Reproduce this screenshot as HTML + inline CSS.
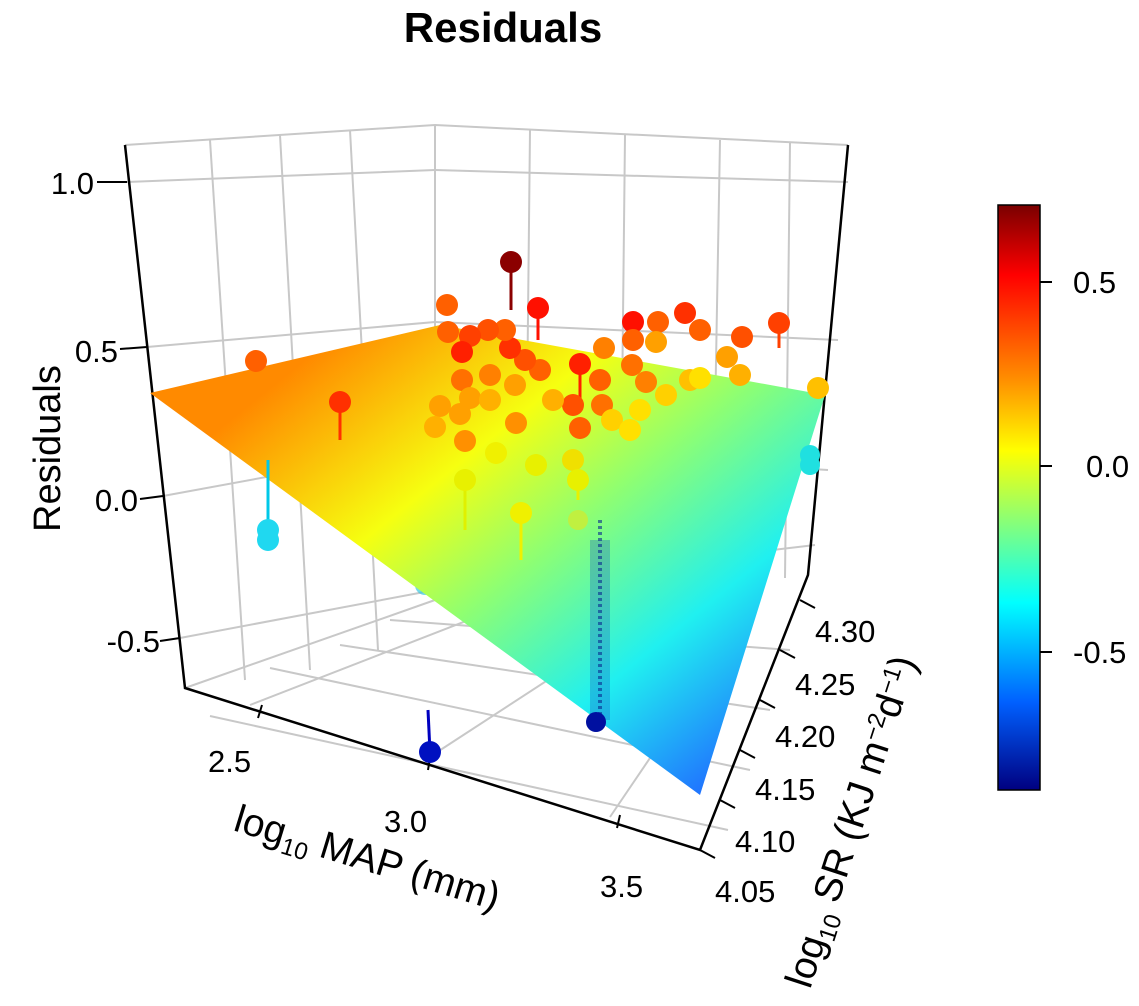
<!DOCTYPE html>
<html><head><meta charset="utf-8"><style>
body{margin:0;background:#fff}
svg text{font-family:"Liberation Sans",Arial,sans-serif}
</style></head><body>
<svg width="1139" height="1001" viewBox="0 0 1139 1001" xmlns="http://www.w3.org/2000/svg">
<defs>
<linearGradient id="pl" gradientUnits="userSpaceOnUse" x1="330" y1="340" x2="700" y2="800">
<stop offset="0" stop-color="#ff8a00"/>
<stop offset="0.3" stop-color="#f6ff10"/>
<stop offset="0.5" stop-color="#90ff70"/>
<stop offset="0.75" stop-color="#20f0f0"/>
<stop offset="1" stop-color="#2070ff"/>
</linearGradient>
<linearGradient id="cb" x1="0" y1="0" x2="0" y2="1">
<stop offset="0" stop-color="#7a0000"/>
<stop offset="0.12" stop-color="#ff0000"/>
<stop offset="0.3" stop-color="#ff9000"/>
<stop offset="0.42" stop-color="#ffff00"/>
<stop offset="0.55" stop-color="#80ff80"/>
<stop offset="0.68" stop-color="#00ffff"/>
<stop offset="0.85" stop-color="#0060ff"/>
<stop offset="1" stop-color="#000080"/>
</linearGradient>
</defs>
<text x="503" y="42" font-size="42" font-weight="bold" text-anchor="middle">Residuals</text>
<g stroke="#c8c8c8" stroke-width="2" fill="none">
<path d="M127,182 L435,170 M147,347 L435,322 M163,496 L435,446 M180,638 L435,590"/>
<path d="M210,140 L245,680 M280,135 L310,670 M350,130 L378,650"/>
<path d="M435,125 L435,600"/>
<path d="M435,170 L848,182 M435,322 L838,340 M435,446 L828,470 M435,590 L815,545"/>
<path d="M530,130 L525,595 M625,135 L620,590 M720,140 L712,585 M790,143 L785,578"/>
<path d="M250,705 L520,600 M425,760 L640,620 M610,817 L730,640 M185,688 L435,600"/>
<path d="M210,716 L728,830 M270,668 L750,770 M340,645 L770,710 M390,620 L790,650"/>
<path d="M125,145 L435,125 L848,145"/>
</g>
<g stroke="#000" stroke-width="2.5" fill="none">
<path d="M125,145 L185,688 L700,850 L808,575 L848,145"/>
</g>
<g stroke="#000" stroke-width="2">
<path d="M97,182 L127,182 M120,349 L147,347 M140,499 L163,496 M160,641 L180,638"/>
<path d="M258,718 L262,705 M428,770 L430,758 M617,828 L620,815"/>
<path d="M700,850 L715,858 M720,800 L735,808 M740,750 L755,758 M760,700 L775,708 M780,650 L795,658 M800,600 L815,608"/>
</g>
<g font-size="31" fill="#000">
<text x="94" y="194" text-anchor="end">1.0</text>
<text x="118" y="362" text-anchor="end">0.5</text>
<text x="138" y="511" text-anchor="end">0.0</text>
<text x="160" y="652" text-anchor="end">-0.5</text>
<text x="208" y="772">2.5</text>
<text x="384" y="832">3.0</text>
<text x="600" y="897">3.5</text>
<text x="715" y="902">4.05</text>
<text x="735" y="852">4.10</text>
<text x="755" y="800">4.15</text>
<text x="775" y="747">4.20</text>
<text x="795" y="695">4.25</text>
<text x="815" y="642">4.30</text>
</g>
<text transform="translate(60,532) rotate(-90)" font-size="38">Residuals</text>
<text transform="translate(232,830) rotate(17)" font-size="39">log<tspan font-size="24" dy="8">10</tspan><tspan dy="-8"> MAP (mm)</tspan></text>
<text transform="translate(810,990) rotate(-72)" font-size="39">log<tspan font-size="24" dy="8">10</tspan><tspan dy="-8"> SR (KJ m</tspan><tspan font-size="24" dy="-12">−2</tspan><tspan dy="12">d</tspan><tspan font-size="24" dy="-12">−1</tspan><tspan dy="12">)</tspan></text>
<g fill="#3ac8e0" opacity="0.7">
<circle cx="425" cy="585" r="10"/><circle cx="468" cy="605" r="10"/><circle cx="575" cy="590" r="11"/><circle cx="600" cy="640" r="11"/><circle cx="645" cy="630" r="10"/><circle cx="648" cy="570" r="9"/>
</g>
<polygon points="150,393 440,325 825,395 700,795" fill="url(#pl)"/>
<rect x="590" y="540" width="20" height="180" fill="#1a50c0" opacity="0.3"/>
<line x1="600" y1="520" x2="600" y2="720" stroke="#0a2a90" stroke-width="4" stroke-dasharray="3,3" opacity="0.6"/>
<g stroke-width="3">
<line x1="511" y1="262" x2="511" y2="310" stroke="#8b0000"/>
<line x1="340" y1="402" x2="340" y2="440" stroke="#ff3000"/>
<line x1="268" y1="460" x2="268" y2="520" stroke="#00c8e8"/>
<line x1="430" y1="752" x2="428" y2="710" stroke="#0000c0"/>
<line x1="521" y1="513" x2="521" y2="560" stroke="#f0f000"/>
<line x1="580" y1="364" x2="580" y2="410" stroke="#ff2000"/>
<line x1="538" y1="308" x2="538" y2="340" stroke="#ff1000"/>
<line x1="779" y1="323" x2="779" y2="348" stroke="#ff4000"/>
<line x1="578" y1="470" x2="578" y2="500" stroke="#e8f000"/>
<line x1="465" y1="490" x2="465" y2="530" stroke="#e0f000"/>
</g>
<g>
<circle cx="511" cy="262" r="11" fill="#8b0000"/>
<circle cx="538" cy="308" r="11" fill="#ff1000"/>
<circle cx="256" cy="361" r="11" fill="#ff6000"/>
<circle cx="340" cy="402" r="11" fill="#ff3000"/>
<circle cx="268" cy="530" r="11" fill="#20d8f0"/>
<circle cx="268" cy="540" r="11" fill="#20d8f0"/>
<circle cx="430" cy="752" r="11" fill="#0010c0"/>
<circle cx="596" cy="722" r="10" fill="#0010a0"/>
<circle cx="810" cy="455" r="10" fill="#20e0e0"/>
<circle cx="810" cy="465" r="10" fill="#20e0e0"/>
<circle cx="818" cy="388" r="11" fill="#ffc000"/>
<circle cx="779" cy="323" r="11" fill="#ff4000"/>
<circle cx="742" cy="337" r="11" fill="#ff5000"/>
<circle cx="685" cy="313" r="11" fill="#ff3000"/>
<circle cx="700" cy="330" r="11" fill="#ff6000"/>
<circle cx="658" cy="322" r="11" fill="#ff6000"/>
<circle cx="633" cy="322" r="11" fill="#ff1000"/>
<circle cx="633" cy="340" r="11" fill="#ff6000"/>
<circle cx="604" cy="348" r="11" fill="#ff8000"/>
<circle cx="580" cy="364" r="11" fill="#ff2000"/>
<circle cx="727" cy="357" r="11" fill="#ffa000"/>
<circle cx="740" cy="375" r="11" fill="#ffb000"/>
<circle cx="690" cy="380" r="11" fill="#ffc000"/>
<circle cx="656" cy="342" r="11" fill="#ffa000"/>
<circle cx="646" cy="382" r="11" fill="#ff8000"/>
<circle cx="632" cy="365" r="11" fill="#ff7000"/>
<circle cx="600" cy="380" r="11" fill="#ff6000"/>
<circle cx="602" cy="405" r="11" fill="#ff7000"/>
<circle cx="573" cy="405" r="11" fill="#ff5000"/>
<circle cx="580" cy="428" r="11" fill="#ff6000"/>
<circle cx="540" cy="370" r="11" fill="#ff6000"/>
<circle cx="553" cy="400" r="11" fill="#ffb000"/>
<circle cx="515" cy="385" r="11" fill="#ffa000"/>
<circle cx="516" cy="423" r="11" fill="#ff9000"/>
<circle cx="525" cy="360" r="11" fill="#ff5000"/>
<circle cx="510" cy="348" r="11" fill="#ff3000"/>
<circle cx="505" cy="330" r="11" fill="#ff6000"/>
<circle cx="488" cy="330" r="11" fill="#ff5000"/>
<circle cx="470" cy="336" r="11" fill="#ff4000"/>
<circle cx="447" cy="305" r="11" fill="#ff6000"/>
<circle cx="448" cy="332" r="11" fill="#ff6000"/>
<circle cx="462" cy="352" r="11" fill="#ff2000"/>
<circle cx="462" cy="380" r="11" fill="#ff7000"/>
<circle cx="470" cy="398" r="11" fill="#ffa000"/>
<circle cx="440" cy="406" r="11" fill="#ffa000"/>
<circle cx="435" cy="427" r="11" fill="#ffb000"/>
<circle cx="460" cy="414" r="11" fill="#ffa000"/>
<circle cx="490" cy="400" r="11" fill="#ffb000"/>
<circle cx="465" cy="441" r="11" fill="#ff9000"/>
<circle cx="496" cy="453" r="11" fill="#f0f000"/>
<circle cx="536" cy="465" r="11" fill="#e8f000"/>
<circle cx="573" cy="460" r="11" fill="#f0e000"/>
<circle cx="578" cy="480" r="11" fill="#e8f000"/>
<circle cx="465" cy="480" r="11" fill="#e8f000"/>
<circle cx="521" cy="513" r="11" fill="#f0f000"/>
<circle cx="578" cy="520" r="10" fill="#c0f040"/>
<circle cx="612" cy="420" r="11" fill="#ffd000"/>
<circle cx="640" cy="410" r="11" fill="#ffe000"/>
<circle cx="630" cy="430" r="11" fill="#ffe000"/>
<circle cx="666" cy="395" r="11" fill="#ffd000"/>
<circle cx="700" cy="378" r="11" fill="#ffe000"/>
<circle cx="490" cy="375" r="11" fill="#ff8000"/>
</g>
<rect x="998" y="205" width="42" height="585" fill="url(#cb)" stroke="#000" stroke-width="1.5"/>
<g stroke="#000" stroke-width="2"><path d="M1040,282 L1052,282 M1040,466 L1052,466 M1040,652 L1052,652"/></g>
<g font-size="31"><text x="1073" y="293">0.5</text><text x="1086" y="477">0.0</text><text x="1073" y="663">-0.5</text></g>
</svg>
</body></html>
